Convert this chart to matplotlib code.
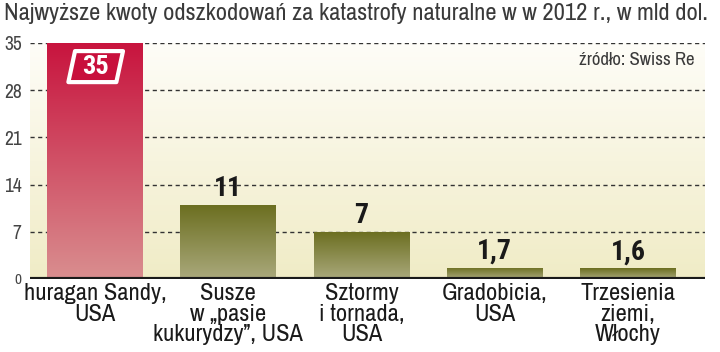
import numpy as np
import matplotlib
matplotlib.use('Agg')
import matplotlib.pyplot as plt
from matplotlib.colors import LinearSegmentedColormap
from matplotlib.patches import Polygon

plt.rcParams['font.family'] = ['Archivo Narrow', 'Roboto Condensed', 'DejaVu Sans']
BOLD = ['Roboto Condensed', 'Saira Condensed', 'Archivo Narrow', 'DejaVu Sans']

categories = ['huragan Sandy,\nUSA', 'Susze\nw \u201epasie\nkukurydzy\u201d, USA',
              'Sztormy\ni tornada,\nUSA', 'Gradobicia,\nUSA', 'Trzesienia\nziemi,\nWłochy']
values = [35, 11, 7, 1.7, 1.6]
value_labels = ['35', '11', '7', '1,7', '1,6']
yticks = [0, 7, 14, 21, 28, 35]
title = 'Najwyższe kwoty odszkodowań za katastrofy naturalne w w 2012 r., w mld dol.'
source = 'źródło: Swiss Re'

fig = plt.figure(figsize=(7.2, 3.52), dpi=100)
ax = fig.add_axes([30 / 720, 1 - 279 / 352, 675 / 720, 236 / 352])
x0, x1 = -0.488, 4.578

# background: white at the top fading to cream at the bottom
bg = LinearSegmentedColormap.from_list('bg', ['#f0ecc6', '#f7f4de', '#fefdf8'])
ax.imshow(np.linspace(0, 1, 256).reshape(-1, 1), cmap=bg, origin='lower', aspect='auto',
          extent=(x0, x1, 0, 35), zorder=0)

for t in yticks[1:]:
    ax.axhline(t, color='#333333', lw=1.0, ls=(0, (3, 2.5)), zorder=1)

red = LinearSegmentedColormap.from_list('red', ['#d98e8f', '#c8143e'])
olive = LinearSegmentedColormap.from_list('olive', ['#aaa97c', '#6b6e1f'])
w = 0.72
for i, v in enumerate(values):
    cmap = red if i == 0 else olive
    bar = ax.bar(i, v, width=w, color='none', zorder=2)[0]
    im = ax.imshow(np.linspace(0, 1, 256).reshape(-1, 1), cmap=cmap, origin='lower', aspect='auto',
                   extent=(i - w / 2, i + w / 2, 0, v), zorder=2)
    im.set_clip_path(bar)
    if i == 0:
        continue
    ax.text(i, v + 0.45, value_labels[i], ha='center', va='bottom', fontsize=20,
            family=BOLD, fontweight='bold', color='#1a1a1a', zorder=4)

ax.set_xlim(x0, x1)
ax.set_ylim(0, 35)

# badge for the largest value
bx, by = 0, 31.5
poly = Polygon([(bx - 0.20, by - 2.3), (bx - 0.15, by + 2.3), (bx + 0.21, by + 2.3), (bx + 0.16, by - 2.3)],
               closed=True, facecolor='#c8103c', edgecolor='white', lw=3, joinstyle='round', zorder=3)
ax.add_patch(poly)
ax.text(bx + 0.005, by, value_labels[0], ha='center', va='center', fontsize=19, family=BOLD,
        fontweight='bold', color='white', zorder=4)

ax.axhline(0, color='#1a1a1a', lw=3, zorder=5)
for s in ax.spines.values():
    s.set_visible(False)
ax.set_xticks(range(len(categories)))
ax.set_xticklabels(categories, fontsize=17.6, color='#1a1a1a', linespacing=0.98)
ax.tick_params(axis='x', length=0, pad=3)
ax.set_yticks(yticks)
ax.set_yticklabels([str(t) for t in yticks], fontsize=14, color='#444444')
ax.get_yticklabels()[0].set_fontsize(11)
ax.get_yticklabels()[0].set_y(-0.6)
ax.tick_params(axis='y', length=0, pad=6)

fig.text(0.006, 0.962, title, fontsize=17.7, color='#3a3a3a', va='center', ha='left')
ax.text(0.985, 0.928, source, transform=ax.transAxes, fontsize=13.5, color='#3a3a3a', ha='right', va='center')

fig.savefig('out.png', dpi=100)
